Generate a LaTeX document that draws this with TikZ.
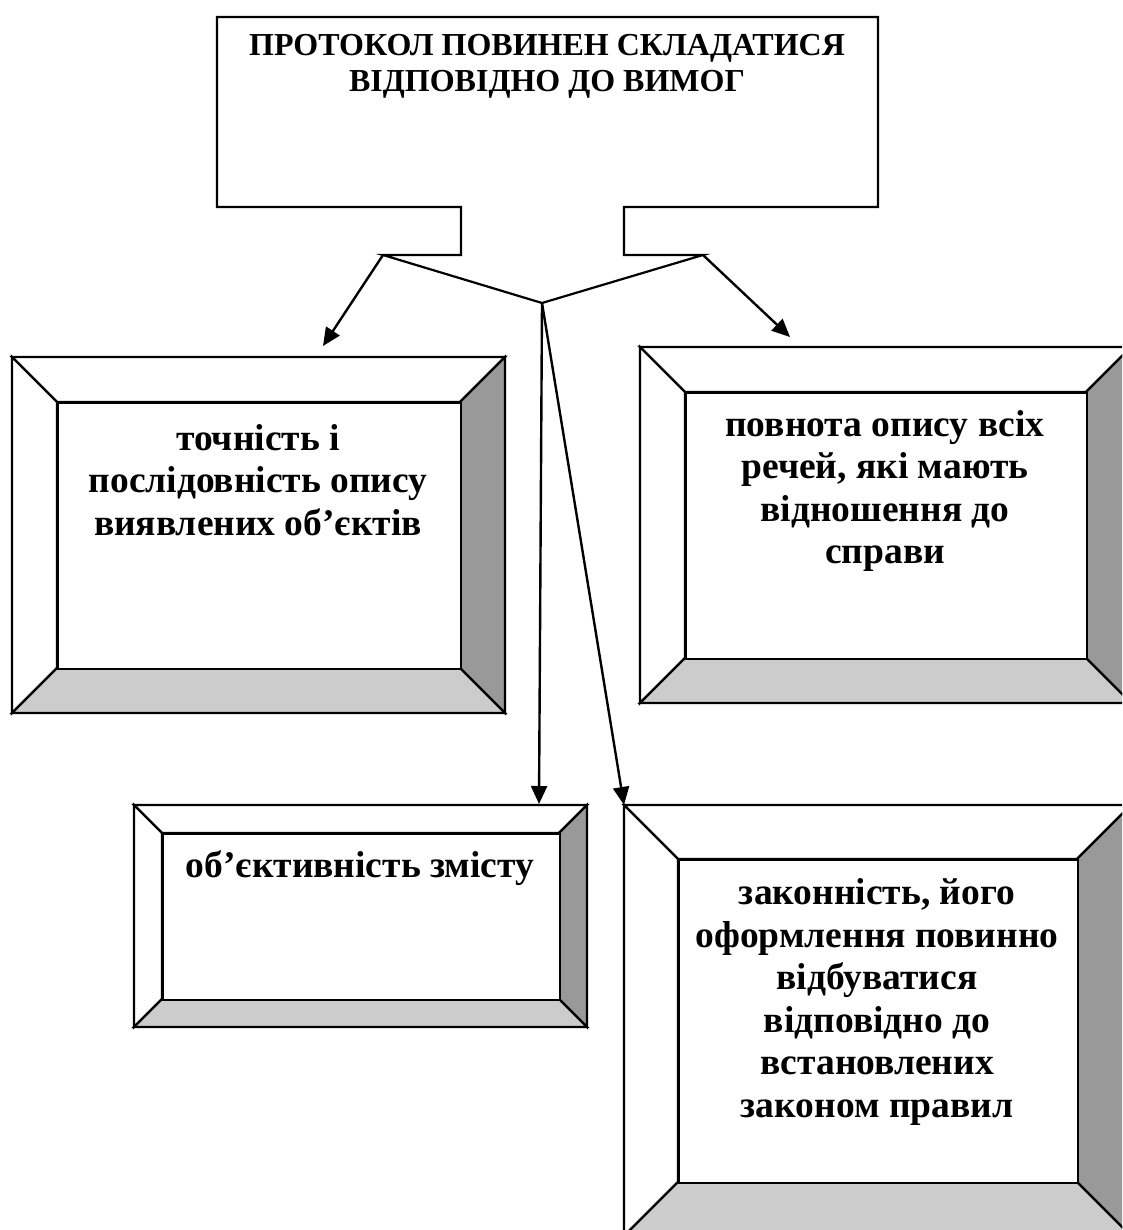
\documentclass[tikz,border=0pt]{standalone}
\usepackage{fontspec}
\setmainfont{Liberation Serif}
\usetikzlibrary{arrows.meta}
\definecolor{faceR}{HTML}{999999}
\definecolor{faceB}{HTML}{CCCCCC}
\tikzset{
  edge/.style={draw=black, line width=2.2pt, line join=miter},
  conn/.style={draw=black, line width=2.4pt, -{Triangle[length=18pt,width=16pt]}},
  lbl/.style={align=center, font=\fontsize{37.5}{42.5}\selectfont\bfseries, inner sep=0pt},
  toplbl/.style={align=center, font=\fontsize{32}{36}\selectfont\bfseries, inner sep=0pt},
}
% #1 name, #2 left, #3 top, #4 right, #5 bottom, #6 bevel
\newcommand\bevbox[6]{%
  \path[edge, fill=white] (#2,#3) -- (#4,#3) -- (#4-#6,#3+#6) -- (#2+#6,#3+#6) -- cycle;
  \path[edge, fill=white] (#2,#3) -- (#2+#6,#3+#6) -- (#2+#6,#5-#6) -- (#2,#5) -- cycle;
  \path[edge, fill=faceR] (#4,#3) -- (#4,#5) -- (#4-#6,#5-#6) -- (#4-#6,#3+#6) -- cycle;
  \path[edge, fill=faceB] (#2,#5) -- (#4,#5) -- (#4-#6,#5-#6) -- (#2+#6,#5-#6) -- cycle;
  \node[edge, fill=white, rectangle, anchor=north west, inner sep=0pt,
        minimum width={(#4-#2-2*#6)*1pt}, minimum height={(#5-#3-2*#6)*1pt}]
        (#1) at (#2+#6,#3+#6) {};
  \coordinate (#1-outer) at (#2,#3);
}
\begin{document}
\begin{tikzpicture}[x=1pt,y=-1pt]
\useasboundingbox (0,0) rectangle (1122,1230);
\clip (0,0) rectangle (1122,1230);
\fill[white] (0,0) rectangle (1122,1230);

% top callout
\coordinate (hub) at (542,303);
\coordinate (tabL) at (383,255);
\coordinate (tabR) at (703,255);
\path[edge, fill=white] (217,17) -- (878,17) -- (878,207) -- (624,207) -- (624,255)
   -- (tabR) -- (hub) -- (tabL) -- (461,255) -- (461,207) -- (217,207) -- cycle;
\node[toplbl] (head) at (547,66) {ПРОТОКОЛ ПОВИНЕН СКЛАДАТИСЯ\\ВІДПОВІДНО ДО ВИМОГ};

% boxes
\bevbox{b1}{12}{357}{505}{713}{45}
\bevbox{b2}{640}{347}{1131}{703}{45}
\bevbox{b3}{134}{805}{587}{1027}{28}
\bevbox{b4}{624}{805}{1131}{1236}{54}

\node[lbl] (t1) at (258,480) {точність і\\послідовність опису\\виявлених об’єктів};
\node[lbl] (t2) at (885,491) {повнота опису всіх\\речей, які мають\\відношення до\\справи};
\node[lbl] (t3) at (360,868) {об’єктивність змісту};
\node[lbl] (t4) at (877,1002) {законність, його\\оформлення повинно\\відбуватися\\відповідно до\\встановлених\\законом правил};

% connectors
\coordinate (aL) at (323,346);
\coordinate (aR) at (790,337);
\coordinate (a3) at (539,804);
\draw[conn] (tabL) -- (aL);
\draw[conn] (tabR) -- (aR);
\draw[conn] (hub) -- (a3);
\draw[conn] (hub) -- (b4-outer);
\end{tikzpicture}
\end{document}
